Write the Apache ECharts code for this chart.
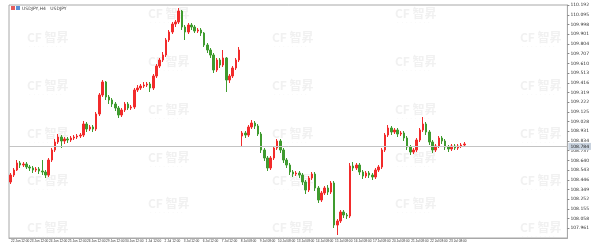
<!DOCTYPE html>
<html>
<head>
<meta charset="utf-8">
<script src="https://cdn.jsdelivr.net/npm/echarts@6/dist/echarts.min.js"></script>
<style>
  html, body { margin: 0; padding: 0; background: #fff; }
  #chart { width: 592px; height: 249px; }
</style>
</head>
<body>
<div id="chart"></div>
<script>
// USDJPY H4 candles
const opens = [
  108.424,108.494,108.544,108.614,108.594,108.604,108.574,108.564,108.544,108.554,
  108.534,108.524,108.494,108.644,108.744,108.824,108.874,108.834,108.854,108.844,
  108.864,108.874,108.884,108.894,109.004,108.954,108.974,108.954,109.104,109.294,
  109.424,109.274,109.244,109.204,109.164,109.094,109.144,109.204,109.164,109.174,
  109.344,109.364,109.384,109.394,109.404,109.364,109.484,109.584,109.644,109.694,
  109.844,109.924,110.004,110.024,110.134,109.974,109.924,109.994,109.974,109.934,
  109.944,109.914,109.794,109.744,109.694,109.544,109.644,109.594,109.664,109.444,
  109.484,109.564,109.644,108.884,108.914,108.894,108.974,109.014,108.984,108.904,
  108.744,108.664,108.564,108.664,108.764,108.834,108.744,108.644,108.594,108.524,
  108.504,108.514,108.494,108.424,108.344,108.464,108.504,108.364,108.244,108.314,
  108.364,108.324,108.414,107.994,108.034,108.124,108.094,108.084,108.584,108.564,
  108.594,108.524,108.484,108.514,108.494,108.474,108.544,108.574,108.744,108.894,
  108.964,108.924,108.944,108.904,108.914,108.864,108.774,108.724,108.744,108.844,
  108.944,109.004,108.924,108.824,108.744,108.784,108.864,108.834,108.774,108.754,
  108.784,108.764,108.784,108.794
];
const closes = [
  108.494,108.544,108.614,108.594,108.604,108.574,108.564,108.544,108.554,108.534,
  108.524,108.494,108.644,108.744,108.824,108.874,108.834,108.854,108.844,108.864,
  108.874,108.884,108.894,109.004,108.954,108.974,108.954,109.104,109.294,109.424,
  109.274,109.244,109.204,109.164,109.094,109.144,109.204,109.164,109.174,109.344,
  109.364,109.384,109.394,109.404,109.364,109.484,109.584,109.644,109.694,109.844,
  109.924,110.004,110.024,110.134,109.974,109.924,109.994,109.974,109.934,109.944,
  109.914,109.794,109.744,109.694,109.544,109.644,109.594,109.664,109.444,109.484,
  109.564,109.644,109.744,108.914,108.894,108.974,109.014,108.984,108.904,108.744,
  108.664,108.564,108.664,108.764,108.834,108.744,108.644,108.594,108.524,108.504,
  108.514,108.494,108.424,108.344,108.464,108.504,108.364,108.244,108.314,108.364,
  108.324,108.414,107.994,108.034,108.124,108.094,108.084,108.584,108.564,108.594,
  108.524,108.484,108.514,108.494,108.474,108.544,108.574,108.744,108.894,108.964,
  108.924,108.944,108.904,108.914,108.864,108.774,108.724,108.744,108.844,108.944,
  109.004,108.924,108.824,108.744,108.784,108.864,108.834,108.774,108.754,108.784,
  108.764,108.784,108.794,108.804
];
const highs = [
  108.514,108.564,108.644,108.634,108.624,108.624,108.594,108.584,108.574,108.574,
  108.644,108.544,108.664,108.764,108.854,108.904,108.894,108.874,108.874,108.884,
  108.894,108.904,108.914,109.034,109.024,108.994,108.994,109.124,109.314,109.444,
  109.434,109.294,109.264,109.224,109.184,109.164,109.224,109.224,109.194,109.364,
  109.394,109.404,109.424,109.424,109.424,109.504,109.604,109.664,109.724,109.864,
  109.944,110.024,110.044,110.164,110.144,109.994,110.014,110.014,109.994,109.964,
  109.964,109.924,109.814,109.764,109.714,109.664,109.664,109.744,109.674,109.504,
  109.584,109.664,109.774,108.934,108.934,108.994,109.044,109.034,109.004,108.924,
  108.764,108.684,108.684,108.784,108.854,108.854,108.764,108.664,108.614,108.544,
  108.534,108.534,108.514,108.444,108.484,108.524,108.524,108.384,108.334,108.384,
  108.394,108.434,108.434,108.054,108.144,108.144,108.114,108.614,108.624,108.614,
  108.614,108.544,108.534,108.534,108.514,108.564,108.594,108.764,108.914,108.994,
  108.984,108.964,108.964,108.934,108.934,108.884,108.794,108.764,108.864,108.964,
  109.074,109.024,108.944,108.844,108.804,108.884,108.884,108.854,108.794,108.804,
  108.804,108.804,108.814,108.824
];
const lows = [
  108.404,108.474,108.534,108.564,108.574,108.554,108.534,108.514,108.524,108.504,
  108.494,108.464,108.474,108.624,108.724,108.804,108.764,108.804,108.814,108.824,
  108.844,108.854,108.864,108.874,108.924,108.934,108.924,108.934,109.084,109.274,
  109.244,109.204,109.174,109.134,109.064,109.074,109.124,109.144,109.144,109.154,
  109.324,109.344,109.364,109.374,109.324,109.344,109.464,109.564,109.624,109.674,
  109.824,109.904,109.974,110.004,109.944,109.844,109.904,109.944,109.914,109.914,
  109.884,109.774,109.714,109.664,109.514,109.524,109.564,109.574,109.324,109.414,
  109.464,109.544,109.624,108.774,108.864,108.874,108.954,108.954,108.884,108.714,
  108.634,108.534,108.544,108.644,108.744,108.714,108.614,108.564,108.494,108.474,
  108.484,108.464,108.394,108.304,108.324,108.444,108.334,108.214,108.224,108.294,
  108.294,108.304,107.964,107.894,108.014,108.064,108.054,108.064,108.534,108.544,
  108.494,108.454,108.464,108.464,108.444,108.454,108.524,108.554,108.724,108.874,
  108.894,108.904,108.874,108.884,108.834,108.744,108.694,108.704,108.724,108.824,
  108.924,108.894,108.794,108.714,108.724,108.764,108.804,108.744,108.724,108.734,
  108.744,108.744,108.764,108.774
];
// time labels under the chart, one per day
const timeLabels = [
  '22 Jun 12:00','23 Jun 12:00','24 Jun 12:00','25 Jun 12:00','26 Jun 12:00','29 Jun 12:00',
  '30 Jun 12:00','1 Jul 12:00','2 Jul 12:00','3 Jul 12:00','6 Jul 12:00','7 Jul 12:00',
  '8 Jul 08:00','9 Jul 08:00','10 Jul 08:00','13 Jul 08:00','14 Jul 08:00','15 Jul 08:00',
  '16 Jul 08:00','17 Jul 08:00','20 Jul 08:00','21 Jul 08:00','22 Jul 08:00','23 Jul 08:00'
];
const currentPrice = 108.784;

const slotCount = 176; // bars + empty space on the right
const categories = Array.from({ length: slotCount }, (_, i) => 'b' + i);
const candles = opens.map((o, i) => [o, closes[i], lows[i], highs[i]]);

const isLabelIdx = (idx) => idx >= 3 && (idx - 3) % 6 === 0 && (idx - 3) / 6 < timeLabels.length;

// watermark positions
const wmA = [[27, 31], [27, 79], [27, 127], [27, 174], [27, 221],
             [272, 31], [272, 79], [272, 127], [272, 174], [272, 221],
             [520, 31], [520, 79], [520, 127], [520, 174], [520, 221]];
const wmB = [[148, 7], [148, 55], [148, 103], [148, 151], [148, 197],
             [395, 7], [395, 55], [395, 103], [395, 151], [395, 197]];
const marks = [];
wmA.concat(wmB).forEach(([x, y]) => {
  marks.push({
    type: 'text', left: x, top: y, z: 0, silent: true,
    style: { text: 'CF 智昇', fill: '#f1f1f1', font: 'bold 12px "Noto Sans CJK SC"' }
  });
  marks.push({
    type: 'text', left: x + 2, top: y + 13, z: 0, silent: true,
    style: { text: '·  ·  ·  ·  ·  ·  ·  ·', fill: '#ebebeb', font: '5px sans-serif' }
  });
});
// header: two small icons + symbol text
marks.push({ type: 'rect', left: 11, top: 6, z: 5, shape: { width: 4, height: 4 }, style: { fill: '#e45c5c' } });
marks.push({ type: 'rect', left: 16, top: 6, z: 5, shape: { width: 4, height: 4 }, style: { fill: '#5b8fd6' } });
marks.push({
  type: 'text', left: 22, top: 6, z: 5,
  style: { text: 'USDJPY,H4   USDJPY', fill: '#444', font: '4.5px "DejaVu Sans"' }
});

const myChart = echarts.init(document.getElementById('chart'));
myChart.setOption({
  animation: false,
  backgroundColor: '#fff',
  graphic: marks,
  grid: {
    left: 9, right: 20, top: 5, bottom: 11,
    show: true, borderColor: '#a8a8a8', borderWidth: 1
  },
  xAxis: {
    type: 'category',
    data: categories,
    boundaryGap: true,
    axisLine: { lineStyle: { color: '#a8a8a8' } },
    axisTick: { length: 2, interval: (idx) => isLabelIdx(idx), lineStyle: { color: '#888' } },
    axisLabel: {
      interval: (idx) => isLabelIdx(idx),
      formatter: (v, idx) => isLabelIdx(idx) ? timeLabels[(idx - 3) / 6] : '',
      fontSize: 3.2, color: '#333', margin: 2, fontFamily: 'Liberation Sans'
    },
    splitLine: { show: false }
  },
  yAxis: {
    type: 'value',
    position: 'right',
    min: 107.864, max: 110.194, interval: 0.097,
    axisLine: { show: true, lineStyle: { color: '#a8a8a8' } },
    axisTick: { show: true, length: 2, lineStyle: { color: '#888' } },
    axisLabel: {
      fontSize: 4.5, color: '#333', margin: 3, fontFamily: 'DejaVu Sans',
      showMinLabel: false, showMaxLabel: false,
      formatter: (v) => v.toFixed(3)
    },
    splitLine: { show: false }
  },
  series: [{
    type: 'candlestick',
    data: candles,
    barWidth: 2,
    itemStyle: {
      color: '#f22b2b', color0: '#3f9b2f',
      borderColor: '#f22b2b', borderColor0: '#3f9b2f', borderWidth: 1
    },
    markLine: {
      silent: true, symbol: 'none',
      lineStyle: { color: '#c4c4c4', width: 1, type: 'solid' },
      label: {
        position: 'end', distance: 1, formatter: currentPrice.toFixed(3),
        fontSize: 4.5, color: '#222', backgroundColor: '#c9d3df', padding: [1, 2],
        fontFamily: 'DejaVu Sans'
      },
      data: [{ yAxis: currentPrice }]
    }
  }]
});
</script>
</body>
</html>
